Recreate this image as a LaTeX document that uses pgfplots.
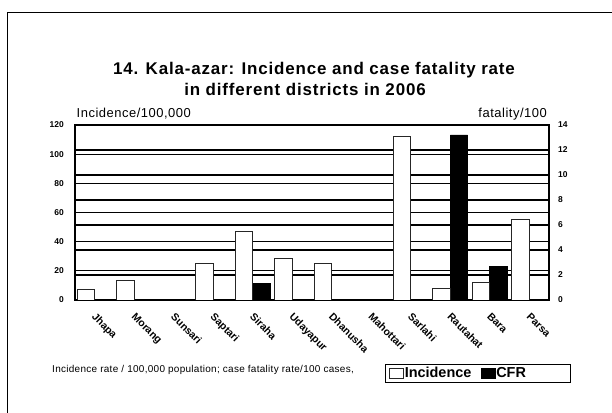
\documentclass[border=0pt]{standalone}
\usepackage{fontspec}
\setmainfont{Liberation Sans}
\usepackage{pgfplots}
\pgfplotsset{compat=1.18}
\begin{document}
\begin{tikzpicture}
\pgfplotsset{
  common/.style={
    at={(75bp,113bp)}, anchor=south west,
    scale only axis, width=474bp, height=175bp,
    xmin=-0.5, xmax=11.5, ymin=0,
    major tick length=0pt,
    /pgf/number format/assume math mode=true,
    axis line style={line width=1.4bp},
    grid style={black, line width=1.2bp},
    ticklabel style={font=\fontsize{8.5}{10}\selectfont\bfseries},
  },
}
% Axis A: left scale, grid, box, category labels
\begin{axis}[common,
  ymax=120, ytick={0,20,...,120}, ymajorgrids,
  yticklabel style={anchor=east, inner sep=0pt, xshift=-11bp},
  xtick={0,...,11},
  xticklabels={Jhapa,Morang,Sunsari,Saptari,Siraha,Udayapur,Dhanusha,Mahottari,Sarlahi,Rautahat,Bara,Parsa},
  xticklabel style={xshift=2bp, yshift=-12bp, rotate=-45, anchor=north west, inner sep=0pt, font=\fontsize{10.5}{12}\selectfont\bfseries},
]
\addplot[draw=none] coordinates {(0,0)};
\end{axis}
% Axis B: right scale, grid, CFR bars
\begin{axis}[common,
  ymax=14, ytick={0,2,...,14}, ymajorgrids,
  axis y line*=right, axis x line=none,
  yticklabel style={anchor=west, inner sep=0pt, xshift=9bp},
]
\addplot[ybar, bar width=17.4bp, bar shift=8.7bp, fill=black, draw=black, line width=0.6bp]
  coordinates {(4,1.3) (9,13.2) (10,2.7)};
\end{axis}
% Axis C: left scale, incidence bars, legend
\begin{axis}[common,
  ymax=120, hide axis,
  legend style={at={(0.654,-0.4726)}, anchor=south west, draw=black, line width=0.9bp,
    font=\fontsize{14.5}{16}\selectfont\bfseries, inner xsep=4bp, inner ysep=2.5bp,
    nodes={inner sep=0.6bp},
    /tikz/every even column/.append style={column sep=9bp}},
  legend columns=2,
  legend image code/.code={\draw[#1, line width=0.7bp] (0bp,-5bp) rectangle (14bp,5bp);},
]
\addplot[ybar, bar width=17.4bp, bar shift=-8.7bp, fill=white, draw=black!85, line width=0.8bp]
  coordinates {(0,7.0) (1,13.5) (3,25) (4,47.2) (5,28.4) (6,25) (8,112.5) (9,8.1) (10,11.9) (11,55.5)};
\addlegendentry{Incidence}
\addlegendimage{fill=black, draw=black}
\addlegendentry{CFR\hspace*{40bp}}
\end{axis}
% texts
\node[anchor=base, font=\fontsize{17}{20}\selectfont\bfseries\addfontfeatures{LetterSpace=5}] at (314bp,338bp) {14. Kala-azar: Incidence and case fatality rate};
\node[anchor=base, font=\fontsize{17}{20}\selectfont\bfseries\addfontfeatures{LetterSpace=5}] at (305bp,317bp) {in different districts in 2006};
\node[anchor=base west, inner sep=0pt, font=\fontsize{13}{15}\selectfont\addfontfeatures{LetterSpace=4}] at (76.5bp,295bp) {Incidence/100,000};
\node[anchor=base east, inner sep=0pt, font=\fontsize{13}{15}\selectfont\addfontfeatures{LetterSpace=4}] at (547bp,295bp) {fatality/100};
\node[anchor=base west, inner sep=0pt, font=\fontsize{10}{12}\selectfont\addfontfeatures{LetterSpace=3}] at (52bp,40bp) {Incidence rate / 100,000 population; case fatality rate/100 cases,};
% outer frame
\draw[line width=1.5bp] (7.5bp,-20bp) -- (7.5bp,400.3bp) -- (640bp,400.3bp);
\pgfresetboundingbox
\useasboundingbox (0,0) rectangle (612bp,413bp);
\end{tikzpicture}
\end{document}
